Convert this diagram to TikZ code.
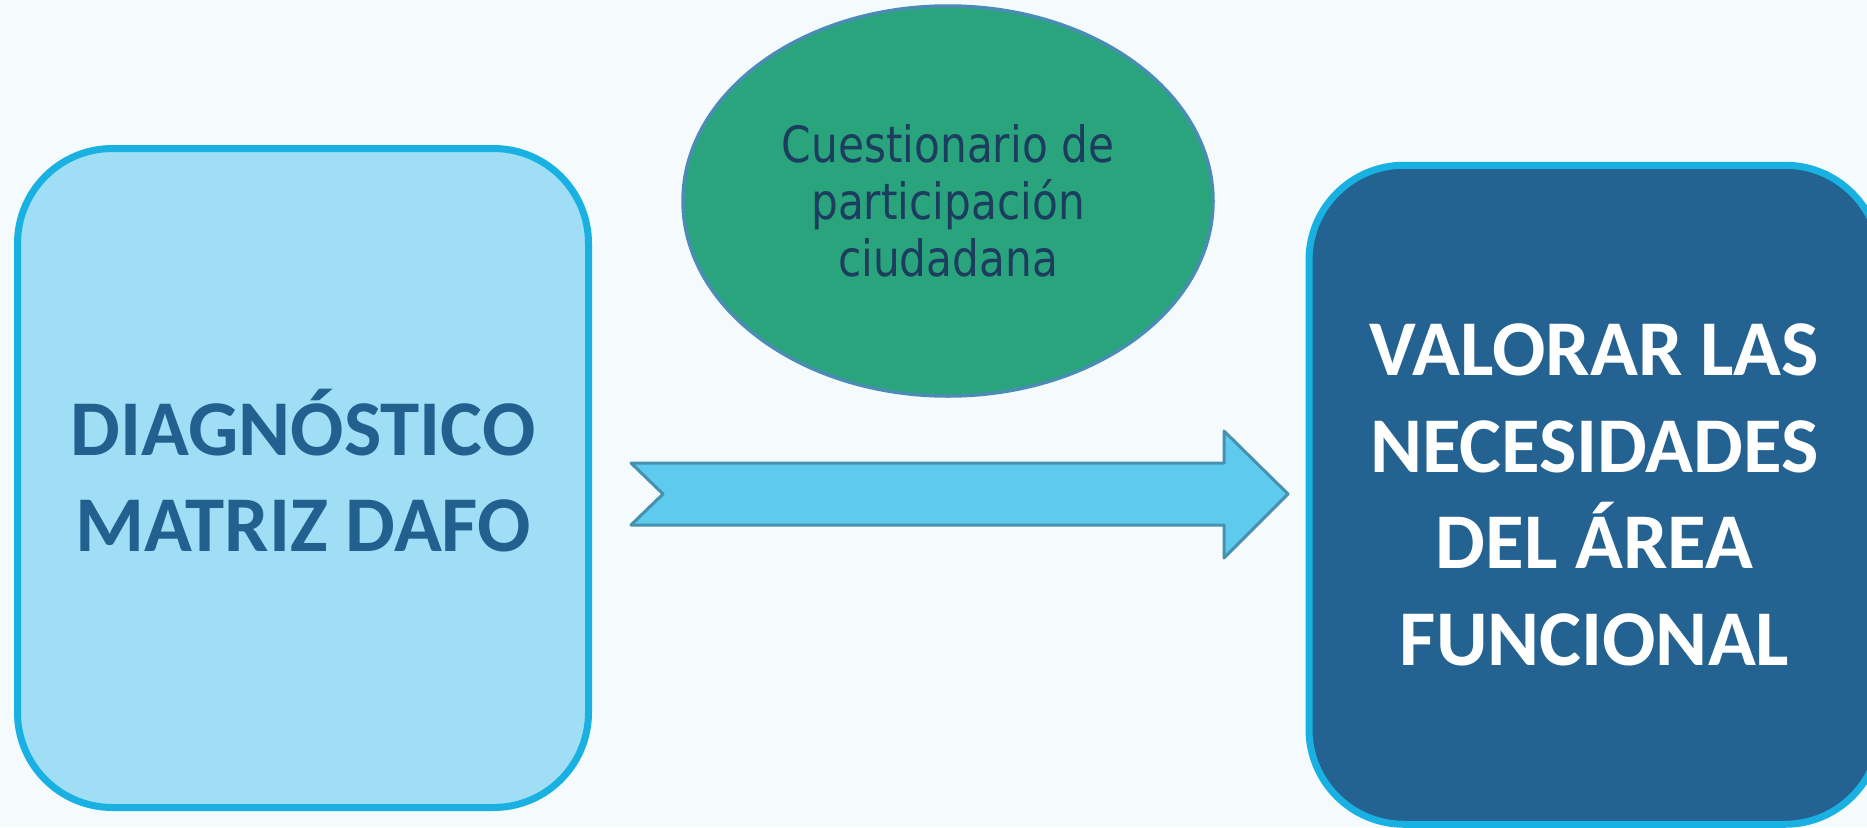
\documentclass[tikz,border=0pt]{standalone}
\usepackage{fontspec}
\newfontfamily\carlito{Carlito}
\newfontfamily\ellfont[FakeStretch=0.845]{DejaVu Sans}
\usetikzlibrary{shapes.geometric}
\definecolor{bgc}{HTML}{F5FAFD}
\definecolor{boxline}{HTML}{19B1E2}
\definecolor{lightfill}{HTML}{9FDEF5}
\definecolor{darkfill}{HTML}{236291}
\definecolor{darktext}{HTML}{22618F}
\definecolor{ellfill}{HTML}{2AA47C}
\definecolor{elline}{HTML}{4A8DB4}
\definecolor{elltext}{HTML}{1C3D5E}
\definecolor{arrfill}{HTML}{5ECAED}
\definecolor{arrline}{HTML}{4692AE}
\tikzset{
  bigbox/.style={draw=boxline, line width=7pt, rounded corners=95pt,
    minimum width=571pt, minimum height=659pt, inner sep=0pt, align=center,
    font=\carlito\bfseries\fontsize{79}{96.5}\selectfont},
  lightbox/.style={bigbox, fill=lightfill, text=darktext},
  darkbox/.style={bigbox, fill=darkfill, text=white},
  ellnode/.style={ellipse, draw=elline, line width=3.5pt, fill=ellfill,
    minimum width=530pt, minimum height=390pt, inner sep=0pt, align=center,
    text=elltext, font=\ellfont\fontsize{50}{57}\selectfont},
  blockarrow/.style={draw=arrline, fill=arrfill, line width=3pt, line join=round}
}
\begin{document}
\begin{tikzpicture}[x=1pt,y=-1pt]
\useasboundingbox (0,0) rectangle (1867,827);
\clip (0,0) rectangle (1867,827);
\fill[bgc] (0,0) rectangle (1867,827);
\node[lightbox] (diag) at (303,478) {DIAGN\smash{Ó}STICO\\MATRIZ DAFO};
\node[ellnode] (cuest) at (948,201) {Cuestionario de\\participación\\ciudadana};
\node[darkbox] (valor) at (1594.5,494.75) {VALORAR LAS\\NECESIDADES\\DEL ÁREA\\FUNCIONAL};
\coordinate (atail) at (631,494);
\coordinate (atip) at (1288,494);
\draw[blockarrow] (atail) ++(0,-31) -- ++(32,31) -- ++(-32,31) -- ++(593,0)
  -- ++(0,33) -- (atip) -- ++(-64,-63) -- ++(0,32) -- cycle;
\end{tikzpicture}
\end{document}
